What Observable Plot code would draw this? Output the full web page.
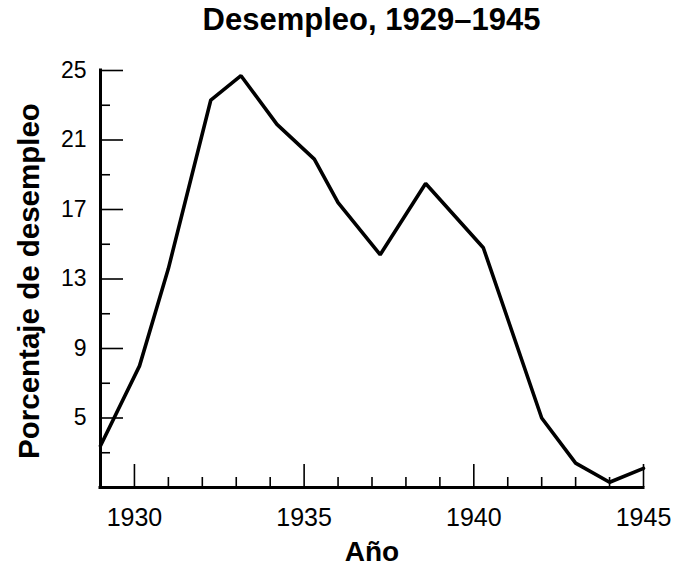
<!DOCTYPE html>
<html><head><meta charset="utf-8">
<script src="https://cdn.jsdelivr.net/npm/d3@7"></script>
<script src="https://cdn.jsdelivr.net/npm/@observablehq/plot@0.6"></script>
<style>
body{margin:0;background:#fff;font-family:"Liberation Sans",Arial,sans-serif;}
#title{width:673px;height:50px;box-sizing:border-box;padding:2px 30px 0 100px;text-align:center;font-weight:bold;font-size:31px;line-height:35px;color:#000;white-space:nowrap;}
</style></head>
<body>
<div id="title"></div>
<div id="chart"></div>
<script>
const titleText = "Desempleo, 1929–1945";
const xLabel = "Año";
const yLabel = "Porcentaje de desempleo";
const years = [1929, 1930.15, 1931.0, 1932.25, 1933.14, 1934.2, 1935.3, 1936.0, 1937.24, 1938.58, 1940.28, 1942.0, 1943.0, 1944.0, 1945.0];
const rates = [3.4, 8.0, 13.6, 23.3, 24.7, 21.9, 19.9, 17.4, 14.4, 18.5, 14.8, 5.0, 2.4, 1.3, 2.1];
const xMajor = [1930, 1935, 1940, 1945];
const xMinor = [1931, 1932, 1933, 1934, 1936, 1937, 1938, 1939, 1941, 1942, 1943, 1944];
const yMajor = [5, 9, 13, 17, 21, 25];
const yMinor = [3, 7, 11, 15, 19, 23];
const xDomain = [1929, 1945];
const yDomain = [1, 25];

document.getElementById("title").textContent = titleText;
const data = years.map((y, i) => ({year: y, rate: rates[i]}));

const chart = Plot.plot({
  width: 673, height: 517,
  marginTop: 20, marginBottom: 80, marginLeft: 100, marginRight: 30,
  style: {fontFamily: "'Liberation Sans', Arial, sans-serif", color: "#000", background: "#fff", overflow: "visible"},
  x: {domain: xDomain, label: null},
  y: {domain: yDomain, label: null},
  marks: [
    Plot.axisY(yMajor, {tickSize: 0, tickPadding: 14, fontSize: 23, tickFormat: d => String(d), label: null}),
    Plot.axisY(yMajor, {tickSize: -23, strokeWidth: 1.6, fill: "none", tickFormat: () => "", label: null}),
    Plot.axisY(yMinor, {tickSize: -10, strokeWidth: 1.6, fill: "none", tickFormat: () => "", label: null}),
    Plot.axisX(xMajor, {tickSize: 0, tickPadding: 21, fontSize: 25, tickFormat: d => String(d), label: null}),
    Plot.axisX(xMajor, {tickSize: -23, strokeWidth: 1.6, fill: "none", tickFormat: () => "", label: null}),
    Plot.axisX(xMinor, {tickSize: -10, strokeWidth: 1.6, fill: "none", tickFormat: () => "", label: null}),
    Plot.ruleX([xDomain[0]], {strokeWidth: 3, strokeLinecap: "square"}),
    Plot.ruleY([yDomain[0]], {strokeWidth: 3, strokeLinecap: "square"}),
    Plot.line(data, {x: "year", y: "rate", stroke: "#000", strokeWidth: 3.6, strokeLinejoin: "miter"}),
    Plot.text([yLabel], {frameAnchor: "left", textAnchor: "middle", rotate: -90, dx: -62, dy: 2, lineAnchor: "bottom", fontSize: 29.5, fontWeight: "bold", fill: "#000"}),
    Plot.text([xLabel], {frameAnchor: "bottom", textAnchor: "middle", dx: 0, dy: 73, lineAnchor: "bottom", fontSize: 28, fontWeight: "bold", fill: "#000"})
  ]
});
document.getElementById("chart").appendChild(chart);
</script>
</body></html>
